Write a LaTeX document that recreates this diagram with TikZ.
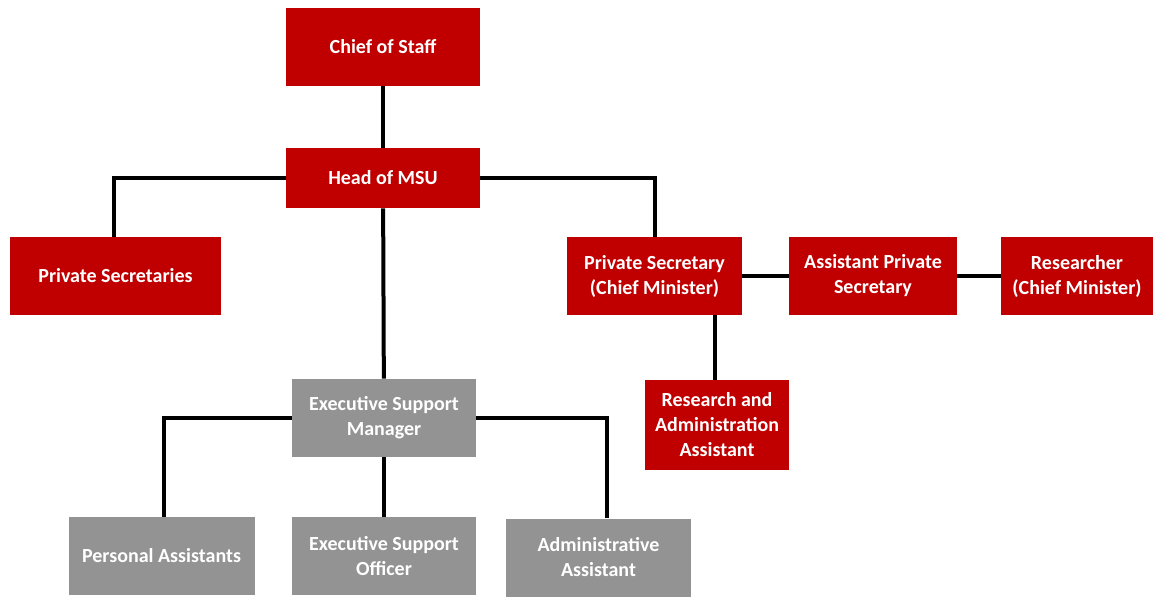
\documentclass[tikz,border=0pt]{standalone}
\usepackage{fontspec}
\setmainfont{Carlito}
\usetikzlibrary{positioning}
\definecolor{msured}{HTML}{C00000}
\definecolor{msugrey}{HTML}{939393}
\tikzset{
x=0.5pt, y=-0.5pt, % one unit is one pixel of the chart
box/.style={text=white, font=\bfseries\fontsize{10}{12.5}\selectfont, align=center, inner sep=2pt, minimum height=39pt}, % common look of each post
redbox/.style={box, fill=msured}, % office posts
greybox/.style={box, fill=msugrey}, % support posts
link/.style={line width=2pt, black}, % reporting lines
}

\begin{document}
\begin{tikzpicture}
    \useasboundingbox (0,0) rectangle (1155,601);

    \node[redbox, minimum width=97pt] (chief) at (383,47) {Chief of Staff};
    \node[redbox, minimum width=97pt, minimum height=30pt] (head) at (383,178) {Head of MSU};
    \node[redbox, minimum width=105.5pt] (psecs) at (115.5,276) {Private Secretaries};
    \node[redbox, minimum width=87.5pt] (pscm) at (654.5,276) {Private Secretary\\(Chief Minister)};
    \node[redbox, minimum width=84pt] (aps) at (873,276) {Assistant Private\\Secretary};
    \node[redbox, minimum width=76pt] (res) at (1077,276) {Researcher\\(Chief Minister)};
    \node[redbox, minimum width=72pt, minimum height=45pt] (raa) at (717,425) {Research and\\Administration\\Assistant};
    \node[greybox, minimum width=92pt] (esm) at (384,418) {Executive Support\\Manager};
    \node[greybox, minimum width=93pt] (pa) at (161.5,556) {Personal Assistants};
    \node[greybox, minimum width=92pt] (eso) at (384,556) {Executive Support\\Officer};
    \node[greybox, minimum width=92.5pt] (aa) at (598.5,557.5) {Administrative\\Assistant};

    \draw[link] (chief) -- (head);
    \draw[link] (head.west) -| ([xshift=-1pt]psecs.north);
    \draw[link] (head.east) -| (pscm.north);
    \draw[link] (head) -- (esm);
    \draw[link] (pscm) -- (aps);
    \draw[link] (aps) -- (res);
    \draw[link] ([xshift=-1pt]raa.north) -- ([xshift=-1pt]raa.north |- pscm.south);
    \draw[link] (esm.west) -| ([xshift=1pt]pa.north);
    \draw[link] (esm) -- (eso);
    \draw[link] (esm.east) -| ([xshift=4pt]aa.north);
  \end{tikzpicture}
\end{document}
